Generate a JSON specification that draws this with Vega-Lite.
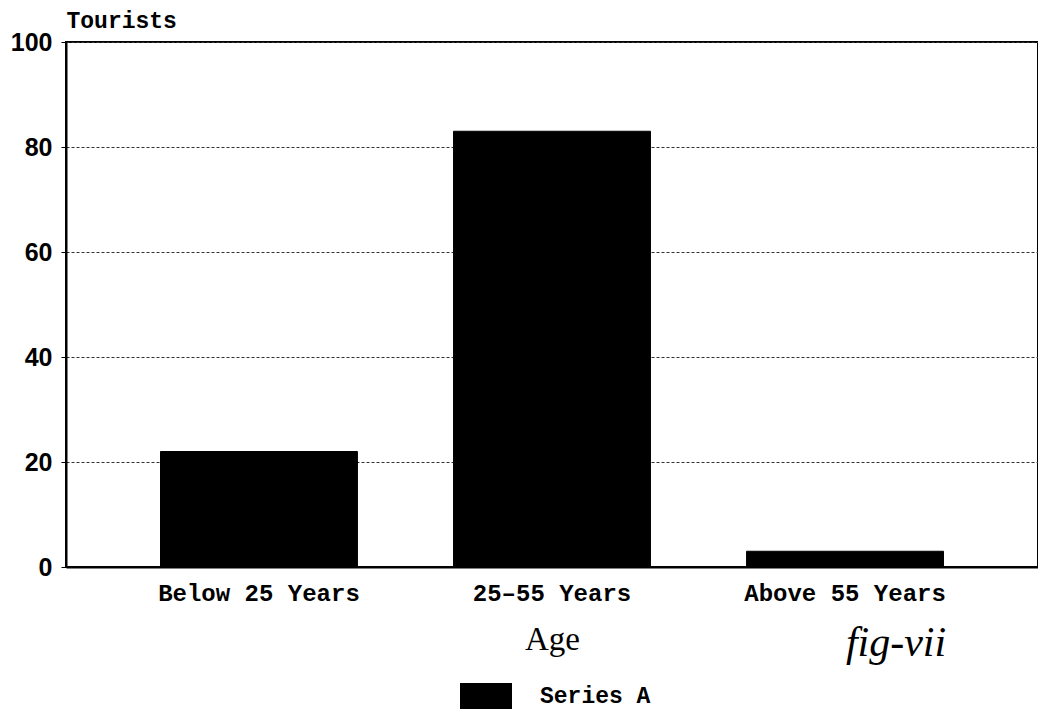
{
  "$schema": "https://vega.github.io/schema/vega-lite/v6.json",
  "width": 972,
  "height": 525,
  "autosize": {"type": "none"},
  "padding": {"left": 66, "top": 42, "right": 0, "bottom": 148},
  "background": "white",
  "config": {
    "view": {"stroke": "black", "strokeWidth": 2},
    "font": "Liberation Mono",
    "legend": {"padding": 0}
  },
  "data": {
    "values": [
      {"age": "Below 25 Years", "tourists": 22, "series": "Series A"},
      {"age": "25–55 Years", "tourists": 83, "series": "Series A"},
      {"age": "Above 55 Years", "tourists": 3, "series": "Series A"}
    ]
  },
  "layer": [
    {
      "mark": {"type": "bar", "stroke": "black", "strokeWidth": 1},
      "encoding": {
        "x": {
          "field": "age",
          "type": "nominal",
          "sort": null,
          "scale": {"paddingInner": 0.328, "paddingOuter": 0.3225},
          "axis": {
            "title": "Age",
            "titleFont": "Liberation Serif",
            "titleFontSize": 33,
            "titleFontWeight": "normal",
            "titlePadding": 18,
            "labelAngle": 0,
            "labelFont": "Liberation Mono",
            "labelFontWeight": "bold",
            "labelFontSize": 24,
            "labelLimit": 500,
            "labelColor": "black",
            "labelPadding": 14,
            "ticks": false,
            "domainColor": "black",
            "domainWidth": 2
          }
        },
        "y": {
          "field": "tourists",
          "type": "quantitative",
          "scale": {"domain": [0, 100]},
          "axis": {
            "values": [0, 20, 40, 60, 80, 100],
            "title": "Tourists",
            "titleAngle": 0,
            "titleAlign": "left",
            "titleBaseline": "alphabetic",
            "titleX": 0,
            "titleY": -15,
            "titleFont": "Liberation Mono",
            "titleFontSize": 23,
            "titleFontWeight": "bold",
            "labelFont": "Liberation Sans",
            "labelFontSize": 25,
            "labelFontWeight": "bold",
            "labelColor": "black",
            "labelPadding": 9,
            "tickColor": "black",
            "tickSize": 5,
            "domainColor": "black",
            "domainWidth": 2,
            "gridColor": "#333",
            "gridDash": [3, 2],
            "gridWidth": 1
          }
        },
        "color": {
          "field": "series",
          "type": "nominal",
          "scale": {"range": ["black"]},
          "legend": {
            "title": null,
            "orient": "none",
            "legendX": 394,
            "legendY": 628,
            "symbolType": "M-1,-0.5H1V0.5H-1Z",
            "symbolSize": 2704,
            "symbolStrokeWidth": 0,
            "labelFont": "Liberation Mono",
            "labelFontSize": 23,
            "labelFontWeight": "bold",
            "labelColor": "black",
            "labelOffset": 28
          }
        }
      }
    },
    {
      "mark": {
        "type": "text",
        "font": "Liberation Serif",
        "fontStyle": "italic",
        "fontSize": 42,
        "baseline": "middle",
        "dy": 76,
        "dx": 51,
        "color": "black"
      },
      "transform": [{"filter": "datum.age == 'Above 55 Years'"}],
      "encoding": {
        "x": {"field": "age", "type": "nominal", "sort": null},
        "y": {"datum": 0, "type": "quantitative"},
        "text": {"value": "fig-vii"}
      }
    }
  ]
}
